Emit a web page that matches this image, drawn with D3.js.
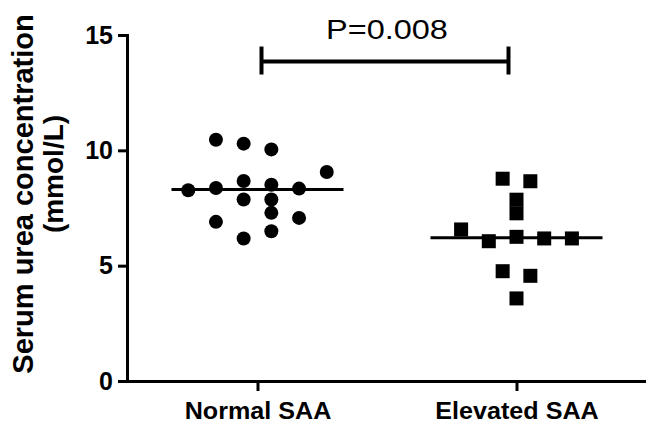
<!DOCTYPE html>
<html>
<head>
<meta charset="utf-8">
<script src="https://cdn.jsdelivr.net/npm/d3@7.9.0/dist/d3.min.js"></script>
<style>
  body { margin: 0; background: #fff; }
  svg { display: block; font-family: Arial, "Liberation Sans", sans-serif; }
</style>
</head>
<body>
<svg id="chart" width="646" height="423"></svg>
<script>
// data
const categories = ["Normal SAA", "Elevated SAA"];
const normalValues = [10.46, 10.29, 10.04, 9.06, 8.27, 8.37, 8.67, 8.51, 8.34, 7.87, 7.87, 7.29, 7.07, 6.90, 6.49, 6.18];
const normalSlots = [-1.5, -0.5, 0.5, 2.5, -2.5, -1.5, -0.5, 0.5, 1.5, -0.5, 0.5, 0.5, 1.5, -1.5, 0.5, -0.5];
const elevatedValues = [8.77, 8.66, 7.86, 7.27, 6.57, 6.06, 6.25, 6.18, 6.18, 4.76, 4.56, 3.58];
const elevatedSlots = [-0.5, 0.5, 0, 0, -2, -1, 0, 1, 2, -0.5, 0.5, 0];
const yTicks = [0, 5, 10, 15];
const bracketValue = 13.85;
const pLabel = "P=0.008";
const yLabelLines = ["Serum urea concentration", "(mmol/L)"];

const svg = d3.select("#chart");

const x = d3.scalePoint().domain(categories).range([128, 646]).padding(0.5);
const y = d3.scaleLinear().domain([0, 15]).range([381, 35]);
const slotWidth = 27.7;
const medHalf = 86;

// y axis
const yAxis = svg.append("g")
  .attr("transform", "translate(127,0)")
  .call(d3.axisLeft(y).tickValues(yTicks).tickSize(9).tickSizeOuter(0).tickPadding(5));
yAxis.select(".domain").attr("stroke-width", 3).attr("stroke-linecap", "square");
yAxis.selectAll(".tick line").attr("stroke-width", 3);
yAxis.selectAll(".tick text")
  .attr("font-size", 25).attr("font-weight", "bold").attr("fill", "#000")
  .attr("font-family", "Arial, 'Liberation Sans', sans-serif");

// x axis
const xAxis = svg.append("g")
  .attr("transform", "translate(0,381)")
  .call(d3.axisBottom(x).tickSize(10).tickSizeOuter(0).tickPadding(11));
xAxis.select(".domain").attr("stroke-width", 3);
xAxis.selectAll(".tick line").attr("stroke-width", 3);
xAxis.selectAll(".tick text")
  .attr("font-size", 23.5).attr("font-weight", "bold").attr("fill", "#000")
  .attr("font-family", "Arial, 'Liberation Sans', sans-serif")
  .attr("transform", "scale(1.07,1)");

// y label
svg.append("text")
  .attr("transform", "translate(33,194) rotate(-90)")
  .attr("text-anchor", "middle")
  .attr("font-size", 29).attr("font-weight", "bold")
  .text(yLabelLines[0]);
svg.append("text")
  .attr("transform", "translate(63,174) rotate(-90)")
  .attr("text-anchor", "middle")
  .attr("font-size", 28).attr("font-weight", "bold")
  .text(yLabelLines[1]);

// points
const normal = normalValues.map((v, i) => ({ v, s: normalSlots[i] }));
const elevated = elevatedValues.map((v, i) => ({ v, s: elevatedSlots[i] }));

svg.append("g").selectAll("circle")
  .data(normal)
  .join("circle")
  .attr("cx", d => x(categories[0]) + d.s * slotWidth)
  .attr("cy", d => y(d.v))
  .attr("r", 7)
  .attr("fill", "#000");

svg.append("g").selectAll("rect")
  .data(elevated)
  .join("rect")
  .attr("x", d => x(categories[1]) + d.s * slotWidth - 7)
  .attr("y", d => y(d.v) - 7)
  .attr("width", 14)
  .attr("height", 14)
  .attr("fill", "#000");

// median lines
const medians = [d3.median(normalValues), d3.median(elevatedValues)];
svg.append("g").selectAll("line")
  .data(medians)
  .join("line")
  .attr("x1", (d, i) => x(categories[i]) - medHalf)
  .attr("x2", (d, i) => x(categories[i]) + medHalf)
  .attr("y1", d => y(d))
  .attr("y2", d => y(d))
  .attr("stroke", "#000")
  .attr("stroke-width", 3);

// significance bracket
const bx1 = x(categories[0]) + 4;
const bx2 = x(categories[1]) - 8;
const by = y(bracketValue);
const br = svg.append("g").attr("stroke", "#000").attr("stroke-width", 4);
br.append("line").attr("x1", bx1).attr("x2", bx2).attr("y1", by).attr("y2", by);
br.append("line").attr("x1", bx1).attr("x2", bx1).attr("y1", by - 15).attr("y2", by + 13);
br.append("line").attr("x1", bx2).attr("x2", bx2).attr("y1", by - 15).attr("y2", by + 13);

svg.append("text")
  .attr("transform", `translate(${(bx1 + bx2) / 2 + 2},38.5) scale(1.16,1)`)
  .attr("text-anchor", "middle")
  .attr("font-size", 28)
  .text(pLabel);
</script>
</body>
</html>
